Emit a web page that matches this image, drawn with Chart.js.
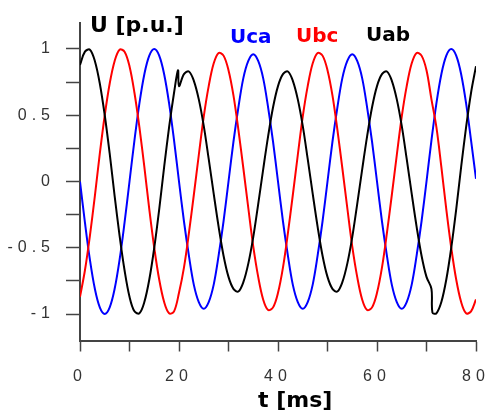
<!DOCTYPE html>
<html>
<head>
<meta charset="utf-8">
<title>U [p.u.] - t [ms]</title>
<script src="https://cdn.jsdelivr.net/npm/chart.js@4.4.1/dist/chart.umd.min.js"></script>
<style>
  html, body { margin: 0; padding: 0; background: #fff; }
  #chart { display: block; }
</style>
</head>
<body>
<canvas id="chart" width="488" height="412"></canvas>
<script>
// Time base, ms (one sample per ms)
const tMs = [
  0, 1, 2, 3, 4, 5, 6, 7, 8, 9, 10, 11, 12, 13, 14, 15, 16, 17, 18, 19,
  20, 21, 22, 23, 24, 25, 26, 27, 28, 29, 30, 31, 32, 33, 34, 35, 36, 37, 38, 39,
  40, 41, 42, 43, 44, 45, 46, 47, 48, 49, 50, 51, 52, 53, 54, 55, 56, 57, 58, 59,
  60, 61, 62, 63, 64, 65, 66, 67, 68, 69, 70,
  71, 72, 73, 74, 75, 76, 77, 78, 79, 80
];

// Uca (blue)
const uca = [
  0, -0.31, -0.59, -0.81, -0.95, -1, -0.95, -0.81, -0.59, -0.31, 0, 0.31, 0.59, 0.81, 0.95, 1, 0.95, 0.81, 0.59, 0.31,
  0, -0.30, -0.56, -0.78, -0.91, -0.96, -0.91, -0.78, -0.56, -0.30, 0, 0.30, 0.56, 0.78, 0.91, 0.96, 0.91, 0.78, 0.56, 0.30,
  0, -0.30, -0.56, -0.78, -0.91, -0.96, -0.91, -0.78, -0.56, -0.30, 0, 0.30, 0.56, 0.78, 0.91, 0.96, 0.91, 0.78, 0.56, 0.30,
  0, -0.30, -0.56, -0.78, -0.91, -0.96, -0.91, -0.78, -0.56, -0.30, 0,
  0.31, 0.59, 0.81, 0.95, 1, 0.95, 0.81, 0.59, 0.31, 0.02
];

// Ubc (red)
const ubc = [
  -0.87, -0.67, -0.41, -0.11, 0.21, 0.5, 0.74, 0.91, 0.995, 0.98, 0.87, 0.67, 0.41, 0.11, -0.21, -0.5, -0.74, -0.91, -0.995, -0.98,
  -0.84, -0.65, -0.39, -0.10, 0.20, 0.49, 0.72, 0.89, 0.97, 0.95, 0.84, 0.65, 0.39, 0.10, -0.20, -0.49, -0.72, -0.89, -0.97, -0.95,
  -0.84, -0.65, -0.39, -0.10, 0.20, 0.49, 0.72, 0.89, 0.97, 0.95, 0.84, 0.65, 0.39, 0.10, -0.20, -0.49, -0.72, -0.89, -0.97, -0.95,
  -0.84, -0.65, -0.39, -0.10, 0.20, 0.49, 0.72, 0.89, 0.97, 0.95, 0.84,
  0.62, 0.41, 0.11, -0.21, -0.5, -0.74, -0.91, -0.995, -0.98, -0.89
];

// Uab (black) - sags to ~0.83 between the two switching events
const uab = [
  0.88, 0.98, 0.995, 0.91, 0.74, 0.5, 0.21, -0.11, -0.41, -0.67, -0.87, -0.98, -0.995, -0.91, -0.74, -0.5, -0.21, 0.11, 0.41, 0.67,
  0.72, 0.81, 0.83, 0.76, 0.62, 0.42, 0.17, -0.09, -0.34, -0.56, -0.72, -0.81, -0.83, -0.76, -0.62, -0.42, -0.17, 0.09, 0.34, 0.56,
  0.72, 0.81, 0.83, 0.76, 0.62, 0.42, 0.17, -0.09, -0.34, -0.56, -0.72, -0.81, -0.83, -0.76, -0.62, -0.42, -0.17, 0.09, 0.34, 0.56,
  0.72, 0.81, 0.83, 0.76, 0.62, 0.42, 0.17, -0.09, -0.34, -0.56, -0.72,
  -0.81, -0.995, -0.91, -0.74, -0.5, -0.21, 0.11, 0.41, 0.67, 0.87
];

// extra Uab samples at the switching glitches
const uabGlitchT = [19.8, 71.2];
const uabGlitchV = [0.84, -0.99];

const seriesNames = ['Uca', 'Ubc', 'Uab'];
const seriesColors = ['#0000ff', '#ff0000', '#000000'];

const xLabelValues = [0, 20, 40, 60, 80];
const yLabelValues = [-1, -0.5, 0, 0.5, 1];
const xTitle = 't [ms]';
const yTitle = 'U [p.u.]';

function toPoints(ts, vs) {
  return ts.map((t, i) => ({ x: t, y: vs[i] }));
}

const uabPoints = toPoints(tMs, uab)
  .concat(toPoints(uabGlitchT, uabGlitchV))
  .sort((a, b) => a.x - b.x);

// Axis titles + coloured series names, drawn on top
const textPlugin = {
  id: 'plotText',
  beforeDraw(chart) {
    // old-style wide tick labels
    chart.ctx.letterSpacing = '5px';
  },
  beforeDatasetsDraw(chart) {
    chart.ctx.letterSpacing = '0px';
  },
  afterDraw(chart) {
    const ctx = chart.ctx;
    ctx.save();
    ctx.letterSpacing = '0px';
    ctx.textAlign = 'left';
    ctx.textBaseline = 'alphabetic';
    ctx.fillStyle = '#000';
    ctx.font = 'bold 22px "DejaVu Sans"';
    ctx.fillText(yTitle, 90, 32);
    ctx.fillText(xTitle, 258, 407);

    const legendX = [230, 296, 366];
    const legendY = [43, 42, 41];
    ctx.font = 'bold 20px "DejaVu Sans"';
    seriesNames.forEach((name, i) => {
      ctx.fillStyle = seriesColors[i];
      ctx.fillText(name, legendX[i], legendY[i]);
    });
    ctx.restore();
  }
};

const tickFont = { family: '"Liberation Sans", Arial, sans-serif', size: 16 };

function makeDataset(label, data, color) {
  return {
    label: label,
    data: data,
    borderColor: color,
    backgroundColor: color,
    borderWidth: 2,
    pointRadius: 0,
    tension: 0.35,
    fill: false
  };
}

new Chart(document.getElementById('chart'), {
  type: 'line',
  data: {
    datasets: [
      makeDataset(seriesNames[2], uabPoints, seriesColors[2]),
      makeDataset(seriesNames[1], toPoints(tMs, ubc), seriesColors[1]),
      makeDataset(seriesNames[0], toPoints(tMs, uca), seriesColors[0])
    ]
  },
  options: {
    responsive: false,
    animation: false,
    layout: { padding: { top: 22.5, right: 12, bottom: 0, left: 0 } },
    plugins: {
      legend: { display: false },
      tooltip: { enabled: false }
    },
    scales: {
      x: {
        type: 'linear',
        min: 0,
        max: 80,
        ticks: {
          stepSize: 10,
          autoSkip: false,
          maxRotation: 0,
          padding: 15.5,
          color: '#333',
          font: tickFont,
          callback: v => xLabelValues.includes(v) ? String(v) : ''
        },
        grid: { drawOnChartArea: false, drawTicks: true, tickLength: 11, tickWidth: 1.5, tickColor: '#444' },
        border: { display: true, color: '#444', width: 2 },
        afterFit(scale) {
          scale.height = 71.5;
          scale.paddingLeft = 0;
          scale.paddingRight = 0;
        }
      },
      y: {
        type: 'linear',
        min: -1.2,
        max: 1.2,
        ticks: {
          stepSize: 0.25,
          includeBounds: false,
          autoSkip: false,
          padding: 11,
          color: '#333',
          font: tickFont,
          callback: v => yLabelValues.some(l => Math.abs(l - v) < 1e-6) ? String(Math.round(v * 100) / 100) : ''
        },
        grid: { drawOnChartArea: false, drawTicks: true, tickLength: 14, tickWidth: 1.5, tickColor: '#444' },
        border: { display: true, color: '#444', width: 2 },
        afterFit(scale) {
          scale.width = 80;
          scale.paddingTop = 0;
          scale.paddingBottom = 0;
        }
      }
    }
  },
  plugins: [textPlugin]
});
</script>
</body>
</html>
